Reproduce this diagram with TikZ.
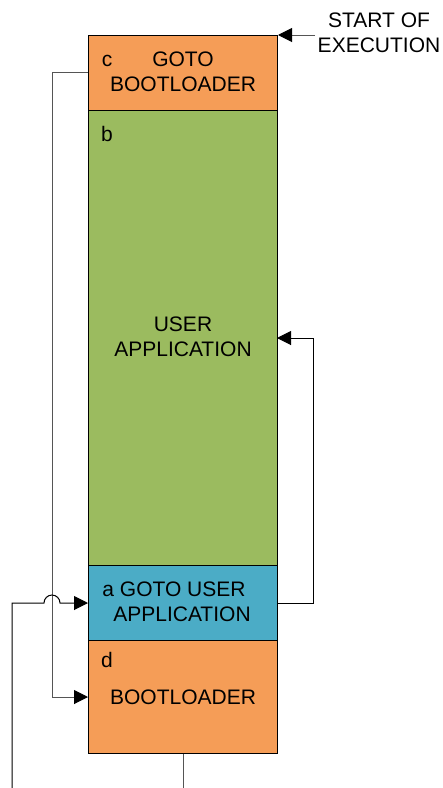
\documentclass[tikz,border=0pt]{standalone}
\usepackage{fontspec}
\setmainfont{Liberation Sans}
\usetikzlibrary{arrows.meta}
\definecolor{orng}{HTML}{F59D57}
\definecolor{grn}{HTML}{9BBB5F}
\definecolor{blu}{HTML}{4BACC6}
\definecolor{lgray}{HTML}{555555}
\tikzset{
  sect/.style={draw=black, line width=1pt, minimum width=189pt, inner sep=0pt, anchor=north west},
  txt/.style={font=\fontsize{21}{25}\selectfont, inner sep=0pt, align=center},
  conn/.style={line width=1pt, draw=black},
  gconn/.style={line width=1pt, draw=lgray},
  tip/.style={-{Triangle[length=14pt,width=14pt,color=black,fill=black]}}
}
\begin{document}
\begin{tikzpicture}[x=1pt,y=-1pt]
\useasboundingbox (0,0) rectangle (443,788);
% sections
\node[sect, fill=orng, minimum height=75pt] (c) at (88,35) {};
\node[sect, fill=grn, minimum height=455pt] (b) at (88,110) {};
\node[sect, fill=blu, minimum height=75pt] (a) at (88,565) {};
\node[sect, fill=orng, minimum height=113pt] (d) at (88,640) {};
% labels
\node[txt] (lc) at (107,61) {c};
\node[txt] (tc) at (183,72) {GOTO\\BOOTLOADER};
\node[txt] (lb) at (107,134) {b};
\node[txt] (tb) at (183,337) {USER\\APPLICATION};
\node[txt] (ta1) at (174,589) {a GOTO USER};
\node[txt] (ta2) at (182,614) {APPLICATION};
\node[txt] (ld) at (107,660) {d};
\node[txt] (td) at (183,697) {BOOTLOADER};
\node[txt] (start) at (379,33) {START OF\\EXECUTION};
% connectors
\coordinate (startend) at (315,35);
\draw[gconn, tip] (startend) -- (c.north east);
\coordinate (cout) at (88,72);
\coordinate (din) at (88,697);
\draw[gconn, tip] (cout) -- (52,72) -- (52,697) -- (din);
\coordinate (aout) at (277,603);
\coordinate (bin) at (277,338);
\draw[conn, tip] (aout) -- (313,603) -- (313,338) -- (bin);
\coordinate (afree) at (12,788);
\coordinate (ain) at (88,603);
\draw[conn, tip] (afree) -- (12,603) -- (44,603) arc[start angle=180, end angle=0, radius=8pt] -- (ain);
\coordinate (dfree) at (183,788);
\draw[gconn] (d.south) -- (dfree);
\end{tikzpicture}
\end{document}
